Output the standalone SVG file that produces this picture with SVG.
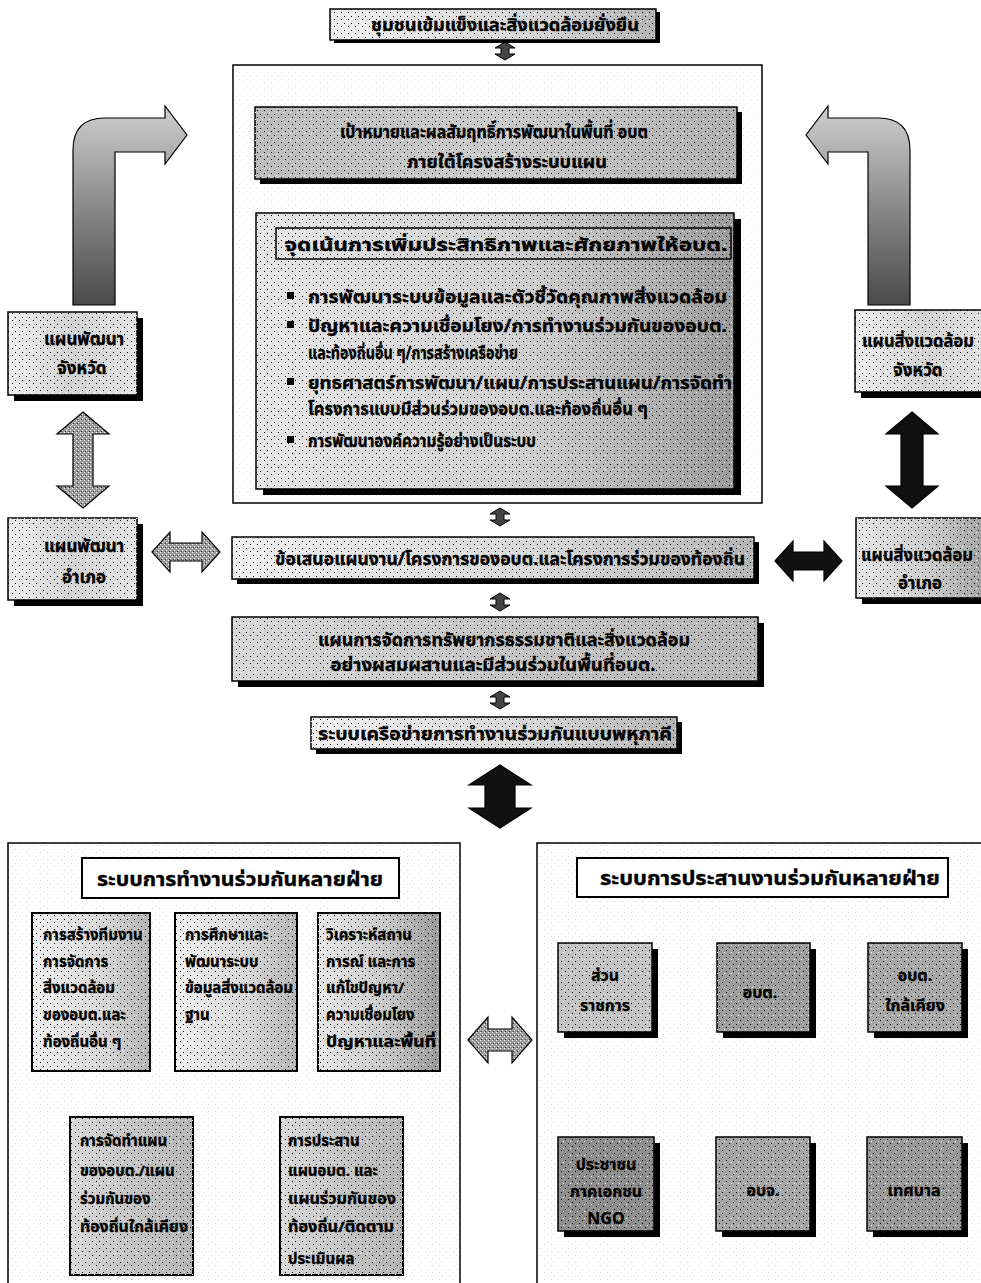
<svg xmlns="http://www.w3.org/2000/svg" width="981" height="1283" viewBox="0 0 981 1283">
  <style>
    .t { font-family: 'Noto Sans Thai', 'Noto Sans Thai UI', 'Noto Sans', 'DejaVu Sans', sans-serif; font-weight: bold; fill: #000; stroke: #000; stroke-width: 0.35; }
    .h { font-size: 18px; }
    .m { font-size: 17px; }
    .s { font-size: 15px; }
    .q { font-size: 16px; }
    .c { text-anchor: middle; }
    .edge { stroke: #000; stroke-width: 1.5; }
    .thick { stroke: #000; stroke-width: 2; }
    .shadow { fill: #000; }
    .grain { fill: url(#grain); }
    .arr { stroke: #000; stroke-width: 1.2; stroke-linejoin: miter; }
  </style>
  <defs>
    <pattern id="grain" width="7" height="7" patternUnits="userSpaceOnUse">
      <rect x="1" y="2" width="1" height="1" fill="#000"/>
      <rect x="5" y="5" width="1" height="1" fill="#000"/>
      <rect x="3" y="0" width="1" height="1" fill="#fff"/>
    </pattern>
    <pattern id="fine" width="4" height="4" patternUnits="userSpaceOnUse">
      <rect width="4" height="4" fill="#9a9a9a"/>
      <rect x="0" y="0" width="1" height="1" fill="#fff"/>
      <rect x="2" y="2" width="1" height="1" fill="#fff"/>
      <rect x="1" y="3" width="1" height="1" fill="#333"/>
    </pattern>
    <linearGradient id="gLight" x1="0" y1="0" x2="1" y2="0">
      <stop offset="0" stop-color="#f0f0f0"/>
      <stop offset="0.6" stop-color="#d6d6d6"/>
      <stop offset="1" stop-color="#b4b4b4"/>
    </linearGradient>
    <linearGradient id="gGoal" x1="0" y1="0" x2="1" y2="0">
      <stop offset="0" stop-color="#bcbcbc"/>
      <stop offset="0.5" stop-color="#cacaca"/>
      <stop offset="1" stop-color="#b0b0b0"/>
    </linearGradient>
    <linearGradient id="gFocus" x1="0" y1="0" x2="1" y2="0">
      <stop offset="0" stop-color="#e6e6e6"/>
      <stop offset="0.55" stop-color="#cfcfcf"/>
      <stop offset="1" stop-color="#9c9c9c"/>
    </linearGradient>
    <linearGradient id="gRes" x1="0" y1="0" x2="1" y2="0">
      <stop offset="0" stop-color="#d8d8d8"/>
      <stop offset="0.5" stop-color="#c4c4c4"/>
      <stop offset="1" stop-color="#b6b6b6"/>
    </linearGradient>
    <linearGradient id="gSide" x1="0" y1="0" x2="1" y2="0">
      <stop offset="0" stop-color="#eeeeee"/>
      <stop offset="0.5" stop-color="#d2d2d2"/>
      <stop offset="1" stop-color="#e4e4e4"/>
    </linearGradient>
    <linearGradient id="gEnv" x1="0" y1="0" x2="1" y2="0">
      <stop offset="0" stop-color="#e6e6e6"/>
      <stop offset="0.5" stop-color="#cccccc"/>
      <stop offset="1" stop-color="#9a9a9a"/>
    </linearGradient>
    <linearGradient id="gBend" x1="0" y1="1" x2="0" y2="0">
      <stop offset="0" stop-color="#4a4a4a"/>
      <stop offset="0.5" stop-color="#8a8a8a"/>
      <stop offset="1" stop-color="#cfcfcf"/>
    </linearGradient>
    <!-- small up/down connector used between the stacked boxes -->
    <path id="ud" d="M0,-9 L10,-3 L4,-3 L4,3 L10,3 L0,9 L-10,3 L-4,3 L-4,-3 L-10,-3 Z"/>
  </defs>

  <rect width="981" height="1283" fill="#fff"/>

  <!-- ===== connectors ===== -->
  <g id="connectors">
    <!-- small links down the central column -->
    <use href="#ud" x="505" y="51" fill="#444" stroke="#000" stroke-width="1"/>
    <use href="#ud" x="500" y="200" fill="#444" stroke="#000" stroke-width="1"/>
    <use href="#ud" x="500" y="517" fill="#444" stroke="#000" stroke-width="1"/>
    <use href="#ud" x="500" y="602" fill="#444" stroke="#000" stroke-width="1"/>
    <use href="#ud" x="500" y="700" fill="#444" stroke="#000" stroke-width="1"/>

    <!-- bent arrows from the provincial plans up to the goal -->
    <path class="arr" fill="url(#gBend)" d="M73,305 L73,150 Q73,118 105,118 L165,118 L165,106 L187,135 L165,164 L165,152 L115,152 L115,305 Z"/>
    <path class="arr" fill="url(#gBend)" d="M910,305 L910,150 Q910,118 878,118 L828,118 L828,106 L806,135 L828,164 L828,152 L868,152 L868,305 Z"/>

    <!-- left side plans -->
    <path class="arr" fill="url(#fine)" d="M83,412 L109,434 L93,434 L93,486 L109,486 L83,508 L57,486 L73,486 L73,434 L57,434 Z"/>
    <path class="arr" fill="url(#fine)" d="M152,552 L170,532 L170,543 L202,543 L202,532 L220,552 L202,572 L202,561 L170,561 L170,572 Z"/>
    <!-- right side plans -->
    <path class="arr" fill="#111" d="M912,412 L938,434 L923,434 L923,486 L938,486 L912,508 L886,486 L901,486 L901,434 L886,434 Z"/>
    <path class="arr" fill="#111" d="M775,561 L793,541 L793,552 L824,552 L824,541 L842,561 L824,581 L824,570 L793,570 L793,581 Z"/>

    <!-- network to the two partnership panels -->
    <path class="arr" fill="#111" d="M500,765 L531,785 L515,785 L515,808 L531,808 L500,828 L469,808 L485,808 L485,785 L469,785 Z"/>
    <path class="arr" fill="url(#fine)" d="M468,1040 L488,1017 L488,1029 L512,1029 L512,1017 L532,1040 L512,1063 L512,1051 L488,1051 L488,1063 Z"/>

    <!-- links inside the working panel -->
    <path class="arr" fill="#555" d="M152,988 L158,981 L158,985 L167,985 L167,981 L173,988 L167,995 L167,991 L158,991 L158,995 Z"/>
    <path class="arr" fill="#555" d="M298,988 L304,981 L304,985 L312,985 L312,981 L318,988 L312,995 L312,991 L304,991 L304,995 Z"/>
    <path class="arr" fill="url(#fine)" d="M136,1077 L152,1089 L144,1089 L144,1103 L152,1103 L136,1115 L120,1103 L128,1103 L128,1089 L120,1089 Z"/>
    <path class="arr" fill="url(#fine)" d="M336,1077 L352,1089 L344,1089 L344,1103 L352,1103 L336,1115 L320,1103 L328,1103 L328,1089 L320,1089 Z"/>
    <path class="arr" fill="url(#fine)" d="M200,1196 L218,1177 L218,1188 L249,1188 L249,1177 L267,1196 L249,1215 L249,1204 L218,1204 L218,1215 Z"/>

    <!-- links inside the coordination panel -->
    <path class="arr" fill="#111" d="M667,993 L677,981 L677,988 L700,988 L700,981 L710,993 L700,1005 L700,998 L677,998 L677,1005 Z"/>
    <path class="arr" fill="#111" d="M820,993 L830,981 L830,988 L855,988 L855,981 L865,993 L855,1005 L855,998 L830,998 L830,1005 Z"/>
    <path class="arr" fill="#111" d="M608,1053 L624,1065 L614,1065 L614,1100 L624,1100 L608,1112 L592,1100 L602,1100 L602,1065 L592,1065 Z"/>
    <path class="arr" fill="#111" d="M917,1053 L933,1065 L923,1065 L923,1100 L933,1100 L917,1112 L901,1100 L911,1100 L911,1065 L901,1065 Z"/>
    <path class="arr" fill="#111" d="M670,1188 L680,1176 L680,1183 L700,1183 L700,1176 L710,1188 L700,1200 L700,1193 L680,1193 L680,1200 Z"/>
    <path class="arr" fill="#111" d="M822,1188 L832,1176 L832,1183 L853,1183 L853,1176 L863,1188 L853,1200 L853,1193 L832,1193 L832,1200 Z"/>
  </g>

  <!-- ===== top outcome ===== -->
  <g id="outcome">
    <rect class="shadow" x="334" y="12" width="326" height="31"/>
    <rect class="edge" x="330" y="9" width="326" height="31" fill="url(#gLight)"/>
    <rect class="grain" x="330" y="9" width="326" height="31"/>
    <text class="t h c" x="505" y="31" textLength="268" lengthAdjust="spacingAndGlyphs">ชุมชนเข้มแข็งและสิ่งแวดล้อมยั่งยืน</text>
  </g>

  <!-- ===== plan framework frame ===== -->
  <g id="framework">
    <rect class="edge" x="233" y="65" width="529" height="438" fill="#fff"/>
    <rect class="grain" x="233" y="65" width="529" height="438" opacity="0.12"/>
  </g>

  <g id="goal">
    <rect class="shadow" x="260" y="112" width="482" height="72"/>
    <rect class="edge" x="255" y="107" width="482" height="72" fill="url(#gGoal)"/>
    <rect class="grain" x="255" y="107" width="482" height="72"/>
    <text class="t h c" x="494" y="138" textLength="308" lengthAdjust="spacingAndGlyphs">เป้าหมายและผลสัมฤทธิ์การพัฒนาในพื้นที่ อบต</text>
    <text class="t h c" x="507" y="168" textLength="200" lengthAdjust="spacingAndGlyphs">ภายใต้โครงสร้างระบบแผน</text>
  </g>

  <g id="focus">
    <rect class="shadow" x="263" y="219" width="478" height="276"/>
    <rect class="edge" x="256" y="213" width="478" height="276" fill="url(#gFocus)"/>
    <rect class="grain" x="256" y="213" width="478" height="276"/>
    <rect class="edge" x="276" y="228" width="455" height="31" fill="none"/>
    <text class="t h c" x="506" y="251" textLength="443" lengthAdjust="spacingAndGlyphs">จุดเน้นการเพิ่มประสิทธิภาพและศักยภาพให้อบต.</text>
    <rect x="287" y="292" width="7" height="7" fill="#000"/>
    <text class="t m" x="308" y="303" textLength="419" lengthAdjust="spacingAndGlyphs">การพัฒนาระบบข้อมูลและตัวชี้วัดคุณภาพสิ่งแวดล้อม</text>
    <rect x="287" y="321" width="7" height="7" fill="#000"/>
    <text class="t m" x="308" y="332" textLength="419" lengthAdjust="spacingAndGlyphs">ปัญหาและความเชื่อมโยง/การทำงานร่วมกันของอบต.</text>
    <text class="t m" x="308" y="359" textLength="210" lengthAdjust="spacingAndGlyphs">และท้องถิ่นอื่น ๆ/การสร้างเครือข่าย</text>
    <rect x="287" y="378" width="7" height="7" fill="#000"/>
    <text class="t m" x="308" y="389" textLength="424" lengthAdjust="spacingAndGlyphs">ยุทธศาสตร์การพัฒนา/แผน/การประสานแผน/การจัดทำ</text>
    <text class="t m" x="308" y="415" textLength="340" lengthAdjust="spacingAndGlyphs">โครงการแบบมีส่วนร่วมของอบต.และท้องถิ่นอื่น ๆ</text>
    <rect x="287" y="436" width="7" height="7" fill="#000"/>
    <text class="t m" x="308" y="447" textLength="228" lengthAdjust="spacingAndGlyphs">การพัฒนาองค์ความรู้อย่างเป็นระบบ</text>
  </g>

  <!-- ===== provincial / district plans ===== -->
  <g id="prov-dev">
    <rect class="shadow" x="14" y="318" width="129" height="83"/>
    <rect class="edge" x="8" y="312" width="129" height="83" fill="url(#gSide)"/>
    <rect class="grain" x="8" y="312" width="129" height="83"/>
    <text class="t m c" x="84" y="345">แผนพัฒนา</text>
    <text class="t m c" x="82" y="374">จังหวัด</text>
  </g>
  <g id="dist-dev">
    <rect class="shadow" x="14" y="524" width="129" height="82"/>
    <rect class="edge" x="8" y="518" width="129" height="82" fill="url(#gSide)"/>
    <rect class="grain" x="8" y="518" width="129" height="82"/>
    <text class="t m c" x="84" y="552">แผนพัฒนา</text>
    <text class="t m c" x="84" y="583">อำเภอ</text>
  </g>
  <g id="prov-env">
    <rect class="shadow" x="861" y="316" width="140" height="82"/>
    <rect class="edge" x="855" y="310" width="140" height="82" fill="url(#gSide)"/>
    <rect class="grain" x="855" y="310" width="140" height="82"/>
    <text class="t m" x="862" y="347" textLength="112" lengthAdjust="spacingAndGlyphs">แผนสิ่งแวดล้อม</text>
    <text class="t m c" x="918" y="376">จังหวัด</text>
  </g>
  <g id="dist-env">
    <rect class="shadow" x="862" y="524" width="140" height="80"/>
    <rect class="edge" x="856" y="518" width="140" height="80" fill="url(#gEnv)"/>
    <rect class="grain" x="856" y="518" width="140" height="80"/>
    <text class="t m" x="861" y="561" textLength="112" lengthAdjust="spacingAndGlyphs">แผนสิ่งแวดล้อม</text>
    <text class="t m c" x="920" y="589">อำเภอ</text>
  </g>

  <!-- ===== proposals, resource plan, network ===== -->
  <g id="proposal">
    <rect class="shadow" x="237" y="542" width="522" height="42"/>
    <rect class="edge" x="232" y="537" width="522" height="42" fill="url(#gLight)"/>
    <rect class="grain" x="232" y="537" width="522" height="42"/>
    <text class="t h c" x="510" y="565" textLength="470" lengthAdjust="spacingAndGlyphs">ข้อเสนอแผนงาน/โครงการของอบต.และโครงการร่วมของท้องถิ่น</text>
  </g>
  <g id="resource-plan">
    <rect class="shadow" x="238" y="623" width="526" height="64"/>
    <rect class="edge" x="232" y="617" width="526" height="64" fill="url(#gRes)"/>
    <rect class="grain" x="232" y="617" width="526" height="64"/>
    <text class="t h c" x="504" y="646" textLength="372" lengthAdjust="spacingAndGlyphs">แผนการจัดการทรัพยากรธรรมชาติและสิ่งแวดล้อม</text>
    <text class="t h c" x="493" y="671" textLength="325" lengthAdjust="spacingAndGlyphs">อย่างผสมผสานและมีส่วนร่วมในพื้นที่อบต.</text>
  </g>
  <g id="network">
    <rect class="shadow" x="316" y="722" width="366" height="32"/>
    <rect class="edge" x="311" y="717" width="366" height="32" fill="url(#gLight)"/>
    <rect class="grain" x="311" y="717" width="366" height="32"/>
    <text class="t h c" x="495" y="740" textLength="354" lengthAdjust="spacingAndGlyphs">ระบบเครือข่ายการทำงานร่วมกันแบบพหุภาคี</text>
  </g>

  <!-- ===== joint working panel ===== -->
  <g id="working-panel">
    <rect class="edge" x="8" y="843" width="452" height="460" fill="#fff"/>
    <rect class="grain" x="8" y="843" width="452" height="460" opacity="0.15"/>
    <rect class="thick" x="82" y="858" width="317" height="40" fill="#fff"/>
    <text class="t c" style="font-size:19px" x="240" y="886" textLength="286" lengthAdjust="spacingAndGlyphs">ระบบการทำงานร่วมกันหลายฝ่าย</text>
  </g>
  <g id="w-team">
    <rect class="thick" x="32" y="913" width="118" height="158" fill="url(#gLight)"/>
    <rect class="grain" x="32" y="913" width="118" height="158"/>
    <text class="t s" x="43" y="940">การสร้างทีมงาน</text>
    <text class="t s" x="43" y="967">การจัดการ</text>
    <text class="t s" x="43" y="993">สิ่งแวดล้อม</text>
    <text class="t s" x="43" y="1020">ของอบต.และ</text>
    <text class="t s" x="43" y="1047">ท้องถิ่นอื่น ๆ</text>
  </g>
  <g id="w-data">
    <rect class="thick" x="175" y="913" width="122" height="158" fill="url(#gLight)"/>
    <rect class="grain" x="175" y="913" width="122" height="158"/>
    <text class="t s" x="185" y="940">การศึกษาและ</text>
    <text class="t s" x="185" y="967">พัฒนาระบบ</text>
    <text class="t s" x="185" y="993" textLength="108" lengthAdjust="spacingAndGlyphs">ข้อมูลสิ่งแวดล้อม</text>
    <text class="t s" x="185" y="1020">ฐาน</text>
  </g>
  <g id="w-analysis">
    <rect class="thick" x="318" y="913" width="122" height="158" fill="url(#gEnv)"/>
    <rect class="grain" x="318" y="913" width="122" height="158"/>
    <text class="t s" x="326" y="940">วิเคราะห์สถาน</text>
    <text class="t s" x="326" y="967">การณ์ และการ</text>
    <text class="t s" x="326" y="993">แก้ไขปัญหา/</text>
    <text class="t s" x="326" y="1020">ความเชื่อมโยง</text>
    <text class="t s" x="326" y="1047" textLength="110" lengthAdjust="spacingAndGlyphs">ปัญหาและพื้นที่</text>
  </g>
  <g id="w-plan">
    <rect class="thick" x="70" y="1117" width="123" height="158" fill="url(#gRes)"/>
    <rect class="grain" x="70" y="1117" width="123" height="158"/>
    <text class="t s" x="80" y="1146">การจัดทำแผน</text>
    <text class="t s" x="80" y="1176">ของอบต./แผน</text>
    <text class="t s" x="80" y="1204">ร่วมกันของ</text>
    <text class="t s" x="80" y="1232" textLength="108" lengthAdjust="spacingAndGlyphs">ท้องถิ่นใกล้เคียง</text>
  </g>
  <g id="w-coord">
    <rect class="thick" x="280" y="1117" width="123" height="158" fill="url(#gRes)"/>
    <rect class="grain" x="280" y="1117" width="123" height="158"/>
    <text class="t s" x="288" y="1146">การประสาน</text>
    <text class="t s" x="288" y="1176">แผนอบต. และ</text>
    <text class="t s" x="288" y="1204" textLength="108" lengthAdjust="spacingAndGlyphs">แผนร่วมกันของ</text>
    <text class="t s" x="288" y="1232" textLength="106" lengthAdjust="spacingAndGlyphs">ท้องถิ่น/ติดตาม</text>
    <text class="t s" x="288" y="1264">ประเมินผล</text>
  </g>

  <!-- ===== coordination panel ===== -->
  <g id="coordination-panel">
    <rect class="edge" x="537" y="843" width="460" height="460" fill="#fff"/>
    <rect class="grain" x="537" y="843" width="460" height="460" opacity="0.15"/>
    <rect class="thick" x="577" y="858" width="371" height="39" fill="#fff"/>
    <text class="t c" style="font-size:19px" x="770" y="885" textLength="340" lengthAdjust="spacingAndGlyphs">ระบบการประสานงานร่วมกันหลายฝ่าย</text>
  </g>
  <g id="c-gov">
    <rect class="shadow" x="564" y="949" width="94" height="89"/>
    <rect class="edge" x="558" y="943" width="94" height="89" fill="#c4c4c4"/>
    <rect class="grain" x="558" y="943" width="94" height="89"/>
    <text class="t q c" x="605" y="981">ส่วน</text>
    <text class="t q c" x="605" y="1011">ราชการ</text>
  </g>
  <g id="c-tao">
    <rect class="shadow" x="723" y="949" width="93" height="89"/>
    <rect class="edge" x="717" y="943" width="93" height="89" fill="#9e9e9e"/>
    <rect class="grain" x="717" y="943" width="93" height="89"/>
    <text class="t q c" x="760" y="998">อบต.</text>
  </g>
  <g id="c-near">
    <rect class="shadow" x="874" y="949" width="94" height="89"/>
    <rect class="edge" x="868" y="943" width="94" height="89" fill="#a8a8a8"/>
    <rect class="grain" x="868" y="943" width="94" height="89"/>
    <text class="t q c" x="915" y="981">อบต.</text>
    <text class="t q c" x="915" y="1011">ใกล้เคียง</text>
  </g>
  <g id="c-people">
    <rect class="shadow" x="564" y="1143" width="96" height="94"/>
    <rect class="edge" x="558" y="1137" width="96" height="94" fill="#8e8e8e"/>
    <rect class="grain" x="558" y="1137" width="96" height="94"/>
    <text class="t q c" x="606" y="1170">ประชาชน</text>
    <text class="t q c" x="606" y="1197">ภาคเอกชน</text>
    <text class="t q c" x="606" y="1224">NGO</text>
  </g>
  <g id="c-pao">
    <rect class="shadow" x="722" y="1143" width="94" height="94"/>
    <rect class="edge" x="716" y="1137" width="94" height="94" fill="#a6a6a6"/>
    <rect class="grain" x="716" y="1137" width="94" height="94"/>
    <text class="t q c" x="763" y="1196">อบจ.</text>
  </g>
  <g id="c-muni">
    <rect class="shadow" x="873" y="1143" width="95" height="94"/>
    <rect class="edge" x="867" y="1137" width="95" height="94" fill="#9a9a9a"/>
    <rect class="grain" x="867" y="1137" width="95" height="94"/>
    <text class="t q c" x="914" y="1196">เทศบาล</text>
  </g>
</svg>
